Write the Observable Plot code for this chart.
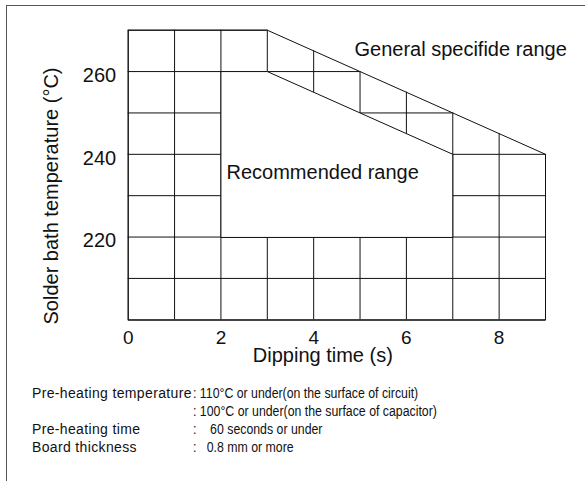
<!DOCTYPE html>
<html><head><meta charset="utf-8">
<script src="https://cdn.jsdelivr.net/npm/d3@7"></script>
<script src="https://cdn.jsdelivr.net/npm/@observablehq/plot@0.6"></script>
<style>
html,body{margin:0;padding:0;background:#fff;}
#wrap{position:relative;width:585px;height:481px;overflow:hidden;font-family:"Liberation Sans",Arial,sans-serif;color:#111;}
#frame{position:absolute;left:6px;top:4.5px;width:700px;height:600px;border-top:1.5px solid #555;border-left:1.5px solid #555;}
#chart{position:absolute;left:0;top:0;}
#notes{position:absolute;left:0;top:384px;font-size:14px;line-height:18px;}
.row{position:relative;height:18px;white-space:pre;}
.lab{position:absolute;left:32px;letter-spacing:0.35px;}
.val{position:absolute;left:193px;transform:scaleX(0.88);transform-origin:0 50%;}
</style></head><body>
<div id="wrap"><div id="frame"></div><div id="chart"></div><div id="notes"></div></div>
<script>
const xGrid = [0,1,2,3,4,5,6,7,8,9];
const yGrid = [200,210,220,230,240,250,260,270];
const xTicks = [0,2,4,6,8];
const yTicks = [220,240,260];
const generalX = [0,0,3,9,9];
const generalY = [200,270,270,240,200];
const recommendedX = [2,2,3,7,7];
const recommendedY = [220,260,260,240,220];
const regionLabels = ["General specifide range","Recommended range"];
const regionLabelX = [4.88, 2.12];
const regionLabelY = [265.3, 235.7];
const xLabel = "Dipping time (s)";
const yLabel = "Solder bath temperature (°C)";
const noteLabels = ["Pre-heating temperature", "", "Pre-heating time", "Board thickness"];
const noteValues = [": 110°C or under(on the surface of circuit)", ": 100°C or under(on the surface of capacitor)", ":    60 seconds or under", ":   0.8 mm or more"];

const general = generalX.map((x,i)=>({x, y: generalY[i]}));
const recommended = recommendedX.map((x,i)=>({x, y: recommendedY[i]}));
// boundary interpolators derived from the general range outline
const upper = d3.scaleLinear().domain(generalX.slice(1,4)).range(generalY.slice(1,4));
const right = d3.scaleLinear().domain([generalY[4], generalY[3], generalY[2]]).range([generalX[4], generalX[3], generalX[2]]);

const chart = Plot.plot({
  width: 585, height: 370,
  marginLeft: 127.7, marginRight: 40, marginTop: 29.7, marginBottom: 50.7,
  style: {fontFamily: '"Liberation Sans", Arial, sans-serif', fontSize: "20px", background: "transparent", color: "#111"},
  x: {domain: [0, 9]},
  y: {domain: [200, 270]},
  marks: [
    Plot.ruleX(xGrid, {x: d => d, y1: generalY[0], y2: d => upper(d), stroke: "#111", strokeWidth: 1}),
    Plot.ruleY(yGrid, {y: d => d, x1: generalX[0], x2: d => right(d), stroke: "#111", strokeWidth: 1}),
    Plot.line(recommended, {x: "x", y: "y", curve: "linear-closed", fill: "white", stroke: "#111", strokeWidth: 1}),
    Plot.line(general, {x: "x", y: "y", curve: "linear-closed", fill: "none", stroke: "#111", strokeWidth: 1}),
    Plot.text(regionLabels, {x: (d,i) => regionLabelX[i], y: (d,i) => regionLabelY[i], text: d => d, textAnchor: "start", fontSize: 20, fill: "#111"}),
    Plot.axisX(xTicks, {tickSize: 0, tickPadding: 11, fontSize: 19, label: null}),
    Plot.axisY(yTicks, {tickSize: 0, tickPadding: 12, fontSize: 20, dy: 4, label: null}),
    Plot.text([xLabel], {frameAnchor: "bottom", lineAnchor: "top", dy: 28, dx: -14, fontSize: 20, text: d => d, fill: "#111"}),
    Plot.text([yLabel], {frameAnchor: "left", textAnchor: "middle", rotate: -90, dx: -77, dy: 21, fontSize: 20, text: d => d, fill: "#111"})
  ]
});
document.getElementById("chart").appendChild(chart);

const notes = document.getElementById("notes");
noteLabels.forEach((lab, i) => {
  const row = document.createElement("div");
  row.className = "row";
  const a = document.createElement("span"); a.className = "lab"; a.textContent = lab;
  const b = document.createElement("span"); b.className = "val"; b.textContent = noteValues[i];
  row.appendChild(a); row.appendChild(b);
  notes.appendChild(row);
});
</script>
</body></html>
